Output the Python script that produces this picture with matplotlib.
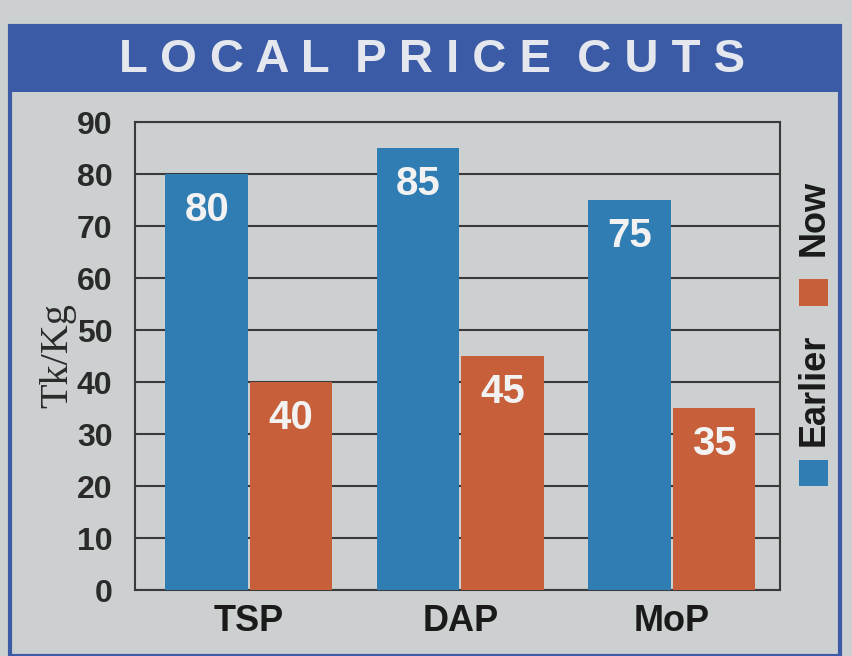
import matplotlib
matplotlib.use("Agg")
import matplotlib.pyplot as plt
from matplotlib.patches import Rectangle
import numpy as np

categories = ["TSP", "DAP", "MoP"]
earlier = [80, 85, 75]
now = [40, 45, 35]
series_names = ["Earlier", "Now"]
yticks = [0, 10, 20, 30, 40, 50, 60, 70, 80, 90]

BG = "#cdd0d1"
BLUE = "#2f7db3"
ORANGE = "#c75f3b"
BANNER = "#3b5ba6"
DARK = "#2a2a2a"
COND = ["Liberation Sans", "DejaVu Sans"]

fig = plt.figure(figsize=(8.53, 6.56), dpi=100)
fig.patch.set_facecolor(BG)

# outer frame and banner
fig.patches.append(Rectangle((0.012, 0.0), 0.973, 0.96, transform=fig.transFigure,
                             fill=False, edgecolor=BANNER, lw=3, zorder=0))
fig.patches.append(Rectangle((0.012, 0.86), 0.973, 0.098, transform=fig.transFigure,
                             facecolor=BANNER, edgecolor=BANNER, lw=0, zorder=1))
fig.text(0.507, 0.908, "L O C A L  P R I C E  C U T S", color="#e4e8ee", fontsize=34,
         fontweight="bold", ha="center", va="center", family=COND)

ax = fig.add_axes([0.158, 0.1006, 0.756, 0.7134])
ax.set_facecolor(BG)
x = np.arange(len(categories))
w = 0.39
b1 = ax.bar(x - w / 2 - 0.005, earlier, w, color=BLUE, zorder=3)
b2 = ax.bar(x + w / 2 + 0.005, now, w, color=ORANGE, zorder=3)
for bars, vals in ((b1, earlier), (b2, now)):
    for r, v in zip(bars, vals):
        ax.text(r.get_x() + r.get_width() / 2, v - 7, str(v), color="#f2f2f2",
                fontsize=29, fontweight="bold", ha="center", va="center",
                family=COND, zorder=4)

ax.set_xlim(-0.54, 2.51)
ax.set_ylim(0, 90)
ax.set_yticks(yticks)
ax.set_yticklabels([str(t) for t in yticks], fontsize=23, fontweight="bold",
                   family=COND, color=DARK)
ax.set_xticks(x)
ax.set_xticklabels(categories, fontsize=26, fontweight="bold", family=COND, color="#1a1a1a")
ax.tick_params(axis="x", length=0, pad=10)
ax.tick_params(axis="y", length=0, pad=16)
ax.grid(axis="y", color="#3a3a3a", lw=1.5, zorder=1)
for s in ax.spines.values():
    s.set_color("#3a3a3a")
    s.set_linewidth(1.5)
ax.set_ylabel("Tk/Kg", fontsize=29, family=["Liberation Serif", "DejaVu Serif"],
              color="#2a2a2a", labelpad=0)

# vertical legend on the right
lx = 0.954
fig.patches.append(Rectangle((lx - 0.017, 1 - 486 / 656), 0.034, 26 / 656,
                             transform=fig.transFigure, facecolor=BLUE, lw=0))
fig.text(lx, 1 - 390 / 656, series_names[0], rotation=90, ha="center", va="center",
         fontsize=26, fontweight="bold", family=COND, color="#1a1a1a")
fig.patches.append(Rectangle((lx - 0.017, 1 - 306 / 656), 0.034, 27 / 656,
                             transform=fig.transFigure, facecolor=ORANGE, lw=0))
fig.text(lx, 1 - 218 / 656, series_names[1], rotation=90, ha="center", va="center",
         fontsize=26, fontweight="bold", family=COND, color="#1a1a1a")

fig.savefig("out.png", dpi=100, facecolor=BG)
